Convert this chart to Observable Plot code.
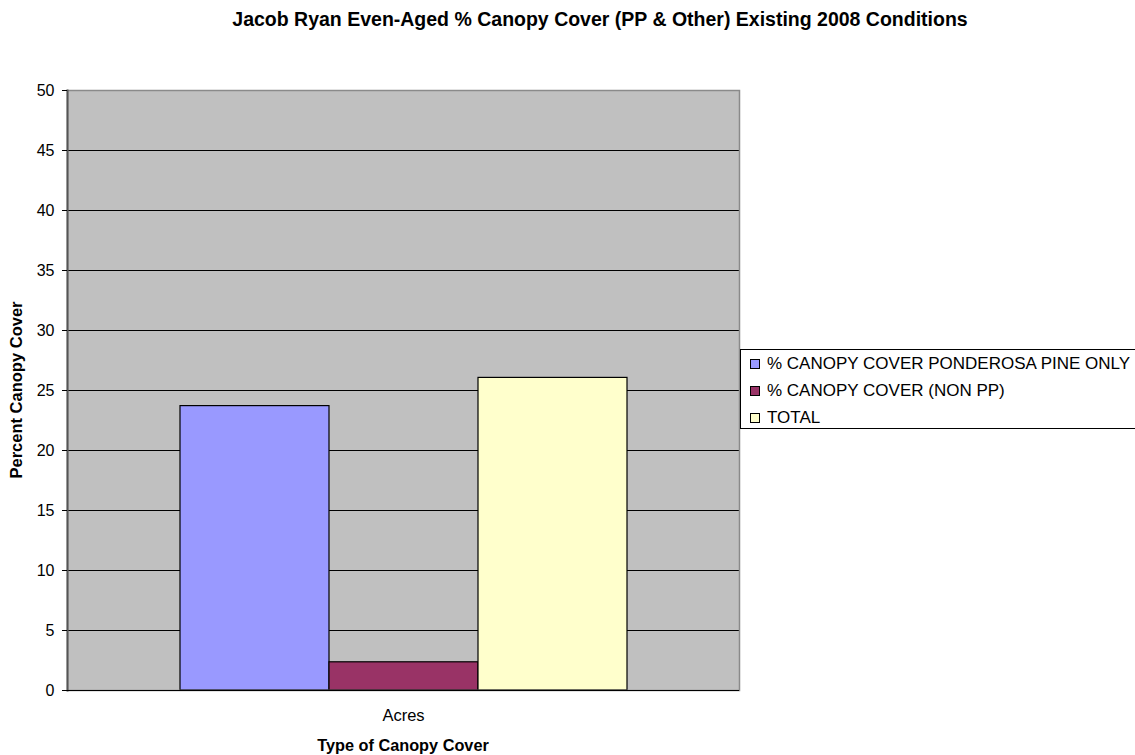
<!DOCTYPE html>
<html>
<head>
<meta charset="utf-8">
<script src="https://cdn.jsdelivr.net/npm/d3@7"></script>
<script src="https://cdn.jsdelivr.net/npm/@observablehq/plot@0.6"></script>
<style>
  body { margin: 0; background: #fff; font-family: "Liberation Sans", Arial, sans-serif; }
  #wrap { position: relative; width: 1135px; height: 755px; overflow: hidden; }
  #chart { position: absolute; left: 0; top: 0; }
  .title { position: absolute; top: 8px; left: 600px; transform: translateX(-50%); white-space: nowrap; font-weight: bold; font-size: 19.5px; line-height: 22px; }
  .ylabel { position: absolute; left: 16px; top: 390px; transform: translate(-50%, -50%) rotate(-90deg); white-space: nowrap; font-weight: bold; font-size: 16.5px; line-height: 18px; }
  .xlabel { position: absolute; left: 403px; top: 736px; transform: translateX(-50%); white-space: nowrap; font-weight: bold; font-size: 16.3px; line-height: 18px; }
  .legend { position: absolute; left: 740px; top: 349px; width: 420px; height: 80px; border: 1px solid #000; background: #fff; box-sizing: border-box; }
  .legend .item { position: absolute; left: 9px; font-size: 17px; line-height: 20px; white-space: nowrap; display: flex; align-items: center; }
  .legend .sw { width: 8px; height: 8px; border: 1px solid #000; margin-right: 7px; }
</style>
</head>
<body>
<div id="wrap">
  <div id="chart"></div>
  <div class="title">Jacob Ryan Even-Aged % Canopy Cover (PP &amp; Other) Existing 2008 Conditions</div>
  <div class="ylabel">Percent Canopy Cover</div>
  <div class="xlabel">Type of Canopy Cover</div>
  <div class="legend" id="legend"></div>
</div>
<script>
// Canopy cover by type, one category group
const categories = ["Acres"];
const series = ["% CANOPY COVER PONDEROSA PINE ONLY", "% CANOPY COVER (NON PP)", "TOTAL"];
const values = [23.7, 2.35, 26.05];
const colors = ["#9999FF", "#993366", "#FFFFCC"];
const yTicks = [0, 5, 10, 15, 20, 25, 30, 35, 40, 45, 50];

const data = series.map((s, i) => ({category: categories[0], series: s, value: values[i]}));

const chart = Plot.plot({
  width: 1135,
  height: 755,
  marginTop: 90,
  marginBottom: 65,
  marginLeft: 67,
  marginRight: 396,
  style: {fontFamily: "'Liberation Sans', Arial, sans-serif", fontSize: "16px", color: "#000", background: "transparent"},
  fx: {domain: categories, padding: 0, label: null},
  x: {domain: series, paddingInner: 0, paddingOuter: 0.75, axis: null},
  y: {domain: [0, 50], ticks: yTicks},
  color: {domain: series, range: colors},
  marks: [
    Plot.frame({fill: "#C0C0C0"}),
    Plot.gridY(yTicks.filter(t => t > 0 && t < 50), {stroke: "#000", strokeOpacity: 1}),
    Plot.barY(data, {fx: "category", x: "series", y: "value", fill: "series", stroke: "#000", strokeWidth: 1.2}),
    Plot.frame({stroke: "#8a8a8a", strokeWidth: 1.5}),
    Plot.frame({anchor: "left", stroke: "#555", strokeWidth: 2}),
    Plot.ruleY([0], {stroke: "#000", strokeWidth: 1.2}),
    Plot.axisY(yTicks, {tickSize: 5, tickPadding: 8, label: null, fontSize: 16}),
    Plot.axisFx({anchor: "bottom", tickSize: 0, tickPadding: 19, label: null, fontSize: 16.5})
  ]
});
document.getElementById("chart").appendChild(chart);

// Legend
const legend = document.getElementById("legend");
series.forEach((s, i) => {
  const item = document.createElement("div");
  item.className = "item";
  item.style.top = (4 + i * 27) + "px";
  const sw = document.createElement("span");
  sw.className = "sw";
  sw.style.background = colors[i];
  item.appendChild(sw);
  item.appendChild(document.createTextNode(s));
  legend.appendChild(item);
});
</script>
</body>
</html>
